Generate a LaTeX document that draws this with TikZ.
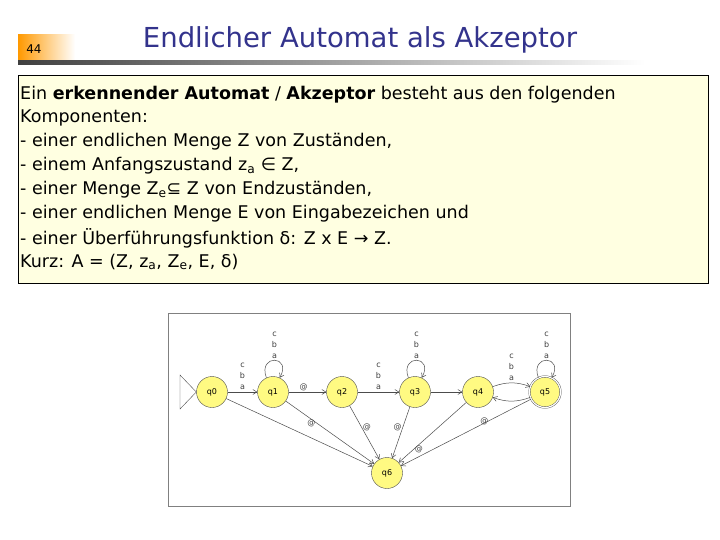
\documentclass[tikz,border=0pt]{standalone}
\usepackage{fontspec}
\setmainfont{DejaVu Sans}
\usetikzlibrary{arrows.meta}
\definecolor{titleblue}{RGB}{51,51,140}
\definecolor{boxfill}{RGB}{255,255,225}
\definecolor{stfill}{RGB}{255,250,130}
\begin{document}
\begin{tikzpicture}[x=1pt,y=-1pt,
  st/.style={circle,draw=black!70,fill=stfill,minimum size=31pt,inner sep=0pt,font=\fontsize{8}{9}\selectfont},
  tr/.style={draw=black!70,line width=0.5pt,-{Straight Barb[length=4pt,width=5pt]}},
  lp/.style={tr,out=110,in=60,looseness=5},
  lbl/.style={font=\fontsize{8}{11}\selectfont,align=center,text=black!75,inner sep=1pt},
  body/.style={anchor=west,font=\fontsize{17.5}{20}\selectfont,inner sep=0pt}]
\useasboundingbox (0,0) rectangle (720,540);
% header
\shade[left color=orange!80!yellow,right color=white] (18,35) rectangle (75,60);
\node[font=\fontsize{12}{14}\selectfont] (num) at (34,49) {44};
\node[font=\fontsize{27.5}{30}\selectfont,text=titleblue] (title) at (360,40) {Endlicher Automat als Akzeptor};
\shade[left color=black!75,right color=white] (18,61) rectangle (645,65);
% text box
\draw[fill=boxfill,line width=0.6pt] (18,75) rectangle (708,283);
\node[body] (l1) at (20,95) {Ein \textbf{erkennender Automat} / \textbf{Akzeptor} besteht aus den folgenden};
\node[body] (l2) at (20,118) {Komponenten:};
\node[body] (l3) at (20,142) {- einer endlichen Menge Z von Zuständen,};
\node[body] (l4) at (20,166) {- einem Anfangszustand z\textsubscript{a} ∈ Z,};
\node[body] (l5) at (20,190) {- einer Menge Z\textsubscript{e}⊆ Z von Endzuständen,};
\node[body] (l6) at (20,214) {- einer endlichen Menge E von Eingabezeichen und};
\node[body] (l7) at (20,238) {- einer Überführungsfunktion δ: Z x E → Z.};
\node[body] (l8) at (20,262) {Kurz: A = (Z, z\textsubscript{a}, Z\textsubscript{e}, E, δ)};
% diagram frame
\draw[black!50,line width=0.8pt,fill=white] (168,313) rectangle (570,506);
% states
\node[st] (q0) at (212,392) {q0};
\node[st] (q1) at (273,392) {q1};
\node[st] (q2) at (342,392) {q2};
\node[st] (q3) at (415,392) {q3};
\node[st] (q4) at (478,392) {q4};
\node[st,double,double distance=1.2pt] (q5) at (545,392) {q5};
\node[st] (q6) at (387,473) {q6};
% start triangle
\coordinate (s1) at (180,375);
\coordinate (s2) at (180,409);
\draw[black!70] (s1) -- (q0.west) -- (s2) -- cycle;
% transitions
\draw[tr] (q0) -- node[lbl,above=1pt]{c\\b\\a} (q1);
\draw[tr] (q1) -- node[lbl,above,pos=0.4]{@} (q2);
\draw[tr] (q2) -- node[lbl,above=1pt]{c\\b\\a} (q3);
\draw[tr] (q3) -- (q4);
\draw[tr] (q4) to[bend left=20] node[lbl,above=1pt]{c\\b\\a} (q5);
\draw[tr] (q5) to[bend left=20] (q4);
\draw[lp] (q1.115) to node[lbl,above=0pt]{c\\b\\a} (q1.65);
\draw[lp] (q3.115) to node[lbl,above=0pt]{c\\b\\a} (q3.65);
\draw[lp] (q5.115) to node[lbl,above=0pt]{c\\b\\a} (q5.65);
\draw[tr] (q0) -- (q6);
\draw[tr] (q1) -- node[lbl,left,pos=0.35]{@} (q6);
\draw[tr] (q2) -- node[lbl,right,pos=0.4]{@} (q6);
\draw[tr] (q3) -- node[lbl,left,pos=0.4]{@} (q6);
\draw[tr] (q4) -- node[lbl,below,pos=0.7]{@} (q6);
\draw[tr] (q5) -- node[lbl,above right,pos=0.4]{@} (q6);
\end{tikzpicture}
\end{document}
